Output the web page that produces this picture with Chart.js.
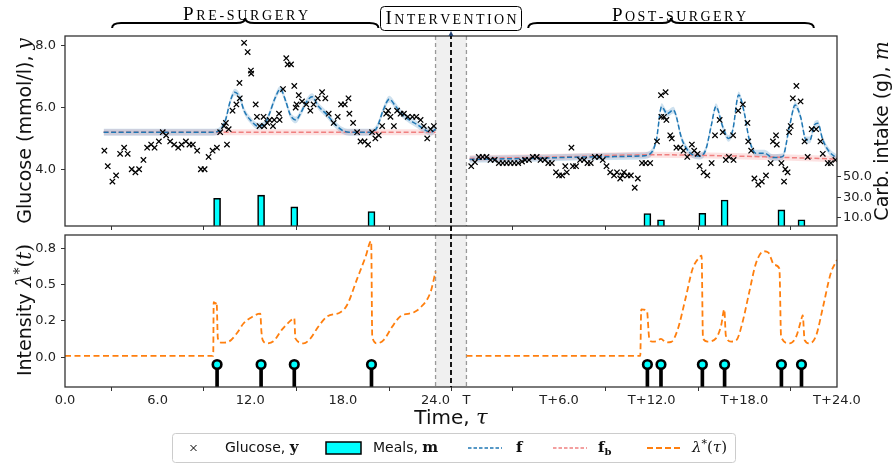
<!DOCTYPE html>
<html>
<head>
<meta charset="utf-8">
<script src="https://cdn.jsdelivr.net/npm/chart.js@4.4.0/dist/chart.umd.min.js"></script>
<style>
  html, body { margin: 0; padding: 0; background: #fff; }
  #wrap { position: relative; width: 896px; height: 465px; }
  #wrap canvas { position: absolute; left: 0; top: 0; }
</style>
</head>
<body>
<div id="wrap">
  <canvas id="topChart" width="896" height="465"></canvas>
  <canvas id="bottomChart" width="896" height="465"></canvas>
</div>
<script>
// ---- ticks ----
const xTicks = [0, 6, 12, 18, 24, 26, 32, 38, 44, 50];
const xTickLabels = ['0.0', '6.0', '12.0', '18.0', '24.0', 'T', 'T+6.0', 'T+12.0', 'T+18.0', 'T+24.0'];
const glucoseTicks = [4, 6, 8];
const carbTicks = [10, 30, 50];
const intensityTicks = [0, 0.25, 0.5, 0.75];
const intensityTickLabels = ['0.0', '0.2', '0.5', '0.8'];

// ---- glucose observations (hours, mmol/l) ----
const glucoseTime = [
  2.55, 2.77, 3.07, 3.31, 3.57, 3.83, 4.06, 4.32, 4.56, 4.8, 5.08, 5.32, 5.58, 5.8, 6.08, 6.33, 6.55, 6.81,
  7.07, 7.33, 7.55, 7.83, 8.06, 8.28, 8.56, 8.8, 9.04, 9.3, 9.56, 9.84, 10.05, 10.3, 10.42, 10.49, 10.6,
  10.85, 11.1, 11.3, 11.32, 11.6, 11.83, 12.04, 12.06, 12.35, 12.43, 12.6, 12.86, 12.9, 13.1, 13.25, 13.47,
  13.55, 13.86, 13.9, 14.12, 14.33, 14.42, 14.64, 14.85, 14.94, 15.0, 15.14, 15.35, 15.63, 15.89, 16.1,
  16.37, 16.65, 16.86, 17.08, 17.4, 17.66, 17.88, 18.12, 18.36, 18.42, 18.66, 18.92, 19.14, 19.4, 19.63,
  19.89, 20.1, 20.32, 20.54, 20.8, 20.93, 21.08, 21.3, 21.51, 21.73, 21.95, 22.2, 22.5, 22.75, 23.03,
  23.24, 23.46, 23.68, 23.89,
  26.31, 26.55, 26.8, 27.05, 27.3, 27.56, 27.83, 28.1, 28.35, 28.6, 28.85, 29.1, 29.35, 29.6, 29.8, 30.05,
  30.3, 30.55, 30.8, 31.07, 31.3, 31.53, 31.8, 32.0, 32.2, 32.4, 32.5, 32.8, 32.9, 33.1, 33.36, 33.62,
  33.84, 34.05, 34.31, 34.6, 34.83, 35.07, 35.31, 35.56, 35.75, 35.96, 36.1, 36.2, 36.43, 36.65, 36.9,
  37.1, 37.37, 37.6, 37.9, 38.34, 38.6, 38.9, 38.62, 38.8, 38.95, 39.2, 39.3, 39.6, 39.85, 40.06, 40.3,
  40.6, 40.75, 40.97, 41.1, 41.36, 41.6, 41.88, 42.1, 42.4, 42.6, 42.8, 43.0, 43.27, 43.3, 43.6, 43.9,
  44.2, 44.25, 44.44, 44.65, 44.9, 45.13, 45.4, 45.7, 45.85, 46.05, 46.1, 46.4, 46.57, 46.65, 46.8, 46.9,
  47.0, 47.14, 47.37, 47.64, 47.9, 48.1, 48.36, 48.65, 48.93, 49.08, 49.4, 49.6, 49.9
];
const glucoseValue = [
  4.6, 4.1, 3.6, 3.8, 4.5, 4.7, 4.5, 4.0, 3.9, 4.0, 4.3, 4.7, 4.8, 4.7, 4.9, 5.2, 5.1, 4.9,
  4.8, 4.7, 4.8, 4.9, 4.8, 4.8, 4.6, 4.0, 4.0, 4.4, 4.6, 4.7, 5.2, 5.4, 5.5, 4.8, 5.3,
  5.9, 6.1, 6.8, 6.3, 8.1, 7.8, 7.2, 7.1, 6.1, 5.7, 5.4, 5.7, 5.4, 5.5, 5.6, 5.4,
  5.6, 5.8, 5.6, 6.6, 7.6, 7.4, 7.4, 6.7, 6.0, 6.1, 6.4, 6.2, 6.1, 5.9, 6.1,
  6.3, 6.5, 6.3, 5.8, 5.5, 5.7, 6.1, 6.1, 6.3, 5.8, 5.5, 5.2, 4.9, 4.9, 4.8,
  5.2, 5.0, 5.1, 5.4, 5.8, 5.9, 5.7, 5.4, 5.9, 5.8, 5.8, 5.7, 5.7, 5.7, 5.6,
  5.4, 5.0, 5.3, 5.4,
  4.1, 4.23, 4.4, 4.4, 4.4, 4.3, 4.3, 4.2, 4.2, 4.2, 4.2, 4.2, 4.2, 4.25, 4.3, 4.3,
  4.4, 4.4, 4.3, 4.3, 4.2, 4.2, 3.9, 3.8, 3.8, 4.1, 3.9, 4.7, 4.1, 4.1, 4.3, 4.3,
  4.2, 4.2, 4.4, 4.4, 4.3, 4.1, 3.9, 3.8, 3.9, 3.7, 3.8, 3.9, 3.8, 3.8, 3.4,
  3.7, 4.2, 4.2, 4.2, 4.9, 6.4, 6.5, 5.7, 5.7, 5.6, 5.1, 5.0, 4.7, 4.7, 4.6, 4.4,
  4.8, 4.6, 4.5, 4.1, 3.9, 3.8, 4.2, 5.1, 5.6, 5.2, 4.3, 4.4, 5.1, 4.3, 5.9, 6.1,
  5.5, 4.9, 4.6, 3.7, 3.5, 3.6, 3.8, 4.2, 4.9, 5.1, 4.8, 4.2, 3.6, 4.0, 3.9, 5.2,
  5.4, 6.3, 6.7, 6.2, 4.9, 4.4, 5.3, 5.3, 4.9, 4.5, 4.2, 4.2, 4.3
];

// ---- fitted response f and baseline fb ----
const fPreTime = [2.5, 4, 6, 8, 9.6, 10.0, 10.4, 10.7, 11.0, 11.3, 11.6, 12.0, 12.5, 12.9, 13.2, 13.6, 13.95,
  14.3, 14.6, 14.95, 15.3, 15.6, 16.0, 16.4, 17.0, 17.5, 18.0, 18.4, 19.8, 20.2, 20.6, 21.0, 21.4, 21.8,
  22.3, 22.8, 23.3, 23.7, 24.0];
const fPreValue = [5.2, 5.2, 5.2, 5.2, 5.2, 5.25, 5.6, 6.2, 6.5, 6.35, 5.9, 5.6, 5.4, 5.45, 5.75, 6.3, 6.6,
  6.2, 5.75, 5.6, 5.85, 6.15, 6.35, 6.05, 5.75, 5.45, 5.25, 5.2, 5.2, 5.35, 5.9, 6.27, 6.05, 5.8,
  5.6, 5.45, 5.28, 5.2, 5.3];
const fPostTime = [26.2, 30, 34, 37.3, 37.9, 38.3, 38.64, 39.0, 39.4, 39.97, 40.5, 41.1, 41.5, 41.85, 42.16,
  42.6, 42.97, 43.25, 43.63, 44.0, 44.3, 44.75, 45.3, 45.84, 46.48, 46.92, 47.29, 47.64, 48.0, 48.25,
  48.54, 48.76, 49.08, 49.5, 50.0];
const fPostValue = [4.32, 4.35, 4.4, 4.43, 4.5, 4.95, 6.03, 5.8, 5.92, 4.95, 4.52, 4.43, 4.63, 5.4, 6.03,
  5.38, 5.0, 5.27, 6.41, 5.82, 5.0, 4.52, 4.52, 4.38, 4.41, 5.38, 6.08, 5.7, 4.95, 4.95,
  5.44, 5.49, 4.95, 4.57, 4.36];
const fbPreTime = [2.5, 10, 16, 24];
const fbPreValue = [5.2, 5.2, 5.2, 5.2];
const fbPostTime = [26.2, 32, 38, 44, 50];
const fbPostValue = [4.35, 4.4, 4.47, 4.42, 4.33];
const fBand = 0.11;
const fbBand = 0.1;

// ---- meals (hours, grams) ----
const mealTime = [9.85, 12.7, 14.85, 19.85, 37.72, 38.6, 41.28, 42.72, 46.4, 47.7];
const mealCarbs = [29, 32, 20.5, 16, 14, 8, 14.3, 27.3, 17.6, 8];
const stemHead = -0.05;
const stemFoot = -0.4;

// ---- meal intensity lambda* ----
const lambdaPreTime = [0, 9.6, 9.63, 9.75, 9.82, 9.9, 10.16, 10.6, 11.13, 11.57, 12.0, 12.65, 12.72, 12.8,
  13.08, 13.5, 14.05, 14.7, 14.85, 14.92, 15.46, 15.9, 16.4, 16.97, 17.84, 18.27, 18.92, 19.46, 19.83,
  19.9, 20.2, 20.65, 21.19, 21.7, 22.6, 23.0, 23.68, 24.0];
const lambdaPreValue = [0.01, 0.01, 0.38, 0.37, 0.38, 0.13, 0.1, 0.107, 0.165, 0.234, 0.27, 0.3, 0.18, 0.12,
  0.096, 0.11, 0.19, 0.26, 0.27, 0.13, 0.096, 0.13, 0.21, 0.28, 0.31, 0.36, 0.54, 0.69, 0.8,
  0.14, 0.096, 0.12, 0.21, 0.28, 0.31, 0.34, 0.45, 0.59];
const lambdaPostTime = [26, 37.26, 37.32, 37.69, 37.84, 38.05, 38.3, 38.6, 38.92, 39.25, 39.68, 40.2, 40.65,
  41.08, 41.23, 41.32, 41.62, 42.16, 42.5, 42.7, 42.8, 43.14, 43.5, 43.89, 44.32, 44.76, 45.26, 45.56,
  45.94, 46.27, 46.38, 46.92, 47.35, 47.68, 47.78, 47.9, 48.22, 48.65, 49.08, 49.6, 50];
const lambdaPostValue = [0.01, 0.01, 0.33, 0.32, 0.13, 0.107, 0.11, 0.126, 0.103, 0.105, 0.19, 0.41, 0.61,
  0.687, 0.7, 0.13, 0.108, 0.13, 0.22, 0.33, 0.15, 0.108, 0.12, 0.245, 0.45, 0.65, 0.73, 0.72,
  0.636, 0.61, 0.14, 0.096, 0.14, 0.257, 0.29, 0.12, 0.096, 0.15, 0.34, 0.58, 0.67];

// ---- colours ----
const blue = '#1f77b4';
const pink = '#f08080';
const orange = '#ff7f0e';
const cyan = '#00ffff';
const spine = '#333333';

Chart.defaults.font.family = "'DejaVu Sans', sans-serif";
Chart.defaults.font.size = 13;
Chart.defaults.color = '#222';

function pts(xs, ys) {
    return xs.map((x, i) => ({ x: x, y: ys[i] }));
}

function shifted(xs, ys, d) {
    return xs.map((x, i) => ({ x: x, y: ys[i] + d }));
}

function bandPair(xs, ys, half, color, order) {
    return [{
        type: 'line', data: shifted(xs, ys, half), fill: '+1', backgroundColor: color,
        borderColor: 'rgba(0,0,0,0)', borderWidth: 0, pointRadius: 0,
        cubicInterpolationMode: 'monotone', order: order
    }, {
        type: 'line', data: shifted(xs, ys, -half), fill: false,
        borderColor: 'rgba(0,0,0,0)', borderWidth: 0, pointRadius: 0,
        cubicInterpolationMode: 'monotone', order: order
    }];
}

function dashLine(xs, ys, color, dash, width, order) {
    return {
        type: 'line', data: pts(xs, ys), borderColor: color, borderWidth: width, borderDash: dash,
        pointRadius: 0, fill: false, cubicInterpolationMode: 'monotone', order: order
    };
}

function fixedTicks(values) {
    return function(axis) { axis.ticks = values.map(v => ({ value: v })); };
}

const tickGrid = { display: true, drawOnChartArea: false, drawTicks: true, tickLength: 4, color: spine, tickColor: spine, tickWidth: 1 };

// ---- text helpers ----
function richWidth(ctx, parts) {
    let w = 0;
    parts.forEach(p => { ctx.font = p.f; w += ctx.measureText(p.t).width; });
    return w;
}

function drawRich(ctx, parts, x, y, align) {
    let cx = align === 'center' ? x - richWidth(ctx, parts) / 2 : x;
    ctx.textAlign = 'left';
    ctx.textBaseline = 'middle';
    parts.forEach(p => {
        ctx.font = p.f;
        ctx.fillText(p.t, cx, y + (p.dy || 0));
        cx += ctx.measureText(p.t).width;
    });
}

function drawRotated(ctx, parts, cx, cy) {
    ctx.save();
    ctx.translate(cx, cy);
    ctx.rotate(-Math.PI / 2);
    drawRich(ctx, parts, 0, 0, 'center');
    ctx.restore();
}

function drawSmallCaps(ctx, text, cx, baseline, targetWidth) {
    const big = "19px 'Liberation Serif', serif";
    const small = "14px 'Liberation Serif', serif";
    const glyphs = text.split('').map(c => {
        const isBig = c !== c.toLowerCase();
        return { t: c.toUpperCase(), f: isBig ? big : small };
    });
    let total = 0;
    glyphs.forEach(g => { ctx.font = g.f; g.w = ctx.measureText(g.t).width; total += g.w; });
    const gap = (targetWidth - total) / (glyphs.length - 1);
    let x = cx - targetWidth / 2;
    ctx.textAlign = 'left';
    ctx.textBaseline = 'alphabetic';
    glyphs.forEach(g => {
        ctx.font = g.f;
        ctx.fillText(g.t, x, baseline);
        x += g.w + gap;
    });
}

function drawBrace(ctx, x1, x2, yTip, yBar, yPeak) {
    const xm = (x1 + x2) / 2;
    const r = 9;
    ctx.beginPath();
    ctx.moveTo(x1, yTip);
    ctx.quadraticCurveTo(x1, yBar, x1 + r, yBar);
    ctx.lineTo(xm - r, yBar);
    ctx.quadraticCurveTo(xm, yBar, xm, yPeak);
    ctx.quadraticCurveTo(xm, yBar, xm + r, yBar);
    ctx.lineTo(x2 - r, yBar);
    ctx.quadraticCurveTo(x2, yBar, x2, yTip);
    ctx.stroke();
}

function roundRect(ctx, x, y, w, h, r) {
    ctx.beginPath();
    ctx.moveTo(x + r, y);
    ctx.lineTo(x + w - r, y);
    ctx.quadraticCurveTo(x + w, y, x + w, y + r);
    ctx.lineTo(x + w, y + h - r);
    ctx.quadraticCurveTo(x + w, y + h, x + w - r, y + h);
    ctx.lineTo(x + r, y + h);
    ctx.quadraticCurveTo(x, y + h, x, y + h - r);
    ctx.lineTo(x, y + r);
    ctx.quadraticCurveTo(x, y, x + r, y);
    ctx.closePath();
}

// shaded intervention window and plot frame, shared by both panels
const panelFrame = {
    id: 'panelFrame',
    beforeDatasetsDraw(chart) {
        const { ctx, chartArea: a, scales: { x } } = chart;
        const x0 = x.getPixelForValue(24), x1 = x.getPixelForValue(26);
        ctx.save();
        ctx.fillStyle = '#f0f0f0';
        ctx.fillRect(x0, a.top, x1 - x0, a.bottom - a.top);
        ctx.strokeStyle = '#999';
        ctx.lineWidth = 1.3;
        ctx.setLineDash([4, 3]);
        [x0, x1].forEach(px => {
            ctx.beginPath();
            ctx.moveTo(px, a.top);
            ctx.lineTo(px, a.bottom);
            ctx.stroke();
        });
        ctx.restore();
    },
    afterDraw(chart) {
        const { ctx, chartArea: a } = chart;
        ctx.save();
        ctx.strokeStyle = spine;
        ctx.lineWidth = 1.3;
        ctx.strokeRect(a.left, a.top, a.right - a.left, a.bottom - a.top);
        ctx.restore();
    }
};

const topDecor = {
    id: 'topDecor',
    afterDraw(chart) {
        const { ctx, scales: { x } } = chart;
        ctx.save();
        ctx.fillStyle = '#000';
        ctx.strokeStyle = '#000';
        ctx.lineWidth = 2;
        drawBrace(ctx, x.getPixelForValue(3.05), x.getPixelForValue(20.3), 28, 23, 18);
        drawBrace(ctx, x.getPixelForValue(30.0), x.getPixelForValue(48.5), 28, 23, 18);
        drawSmallCaps(ctx, 'Pre-surgery', 245.5, 20, 125);
        drawSmallCaps(ctx, 'Post-surgery', 679, 20.5, 134);
        // intervention box
        ctx.lineWidth = 1;
        roundRect(ctx, 380.5, 6.5, 141, 24, 4);
        ctx.fillStyle = '#fff';
        ctx.fill();
        ctx.stroke();
        ctx.fillStyle = '#000';
        drawSmallCaps(ctx, 'Intervention', 451, 24, 131);

        // axis titles
        ctx.fillStyle = '#111';
        drawRotated(ctx, [
            { t: 'Glucose (mmol/l), ', f: "19px 'DejaVu Sans', sans-serif" },
            { t: 'y', f: "italic 20px 'DejaVu Serif', serif" }
        ], 26, 131);
        drawRotated(ctx, [
            { t: 'Carb. intake (g), ', f: "19px 'DejaVu Sans', sans-serif" },
            { t: 'm', f: "italic 20px 'DejaVu Serif', serif" }
        ], 883, 131);
        ctx.restore();
    }
};

const bottomDecor = {
    id: 'bottomDecor',
    afterDraw(chart) {
        const { ctx, chartArea: a, scales: { x } } = chart;
        ctx.save();
        // intervention marker line through both panels
        const xi = x.getPixelForValue(25);
        ctx.strokeStyle = '#000';
        ctx.lineWidth = 1.8;
        ctx.setLineDash([5, 3]);
        ctx.beginPath();
        ctx.moveTo(xi, 34);
        ctx.lineTo(xi, a.bottom);
        ctx.stroke();
        ctx.setLineDash([]);
        ctx.fillStyle = '#1f3f6f';
        ctx.beginPath();
        ctx.moveTo(xi, 31);
        ctx.lineTo(xi - 2.5, 36);
        ctx.lineTo(xi + 2.5, 36);
        ctx.closePath();
        ctx.fill();

        // axis titles
        ctx.fillStyle = '#111';
        drawRotated(ctx, [
            { t: 'Intensity ', f: "19px 'DejaVu Sans', sans-serif" },
            { t: '\u03bb', f: "italic 20px 'DejaVu Serif', serif" },
            { t: '*', f: "14px 'DejaVu Serif', serif", dy: -6 },
            { t: '(', f: "20px 'DejaVu Serif', serif" },
            { t: 't', f: "italic 20px 'DejaVu Serif', serif" },
            { t: ')', f: "20px 'DejaVu Serif', serif" }
        ], 26, 310);
        drawRich(ctx, [
            { t: 'Time, ', f: "20px 'DejaVu Sans', sans-serif" },
            { t: '\u03c4', f: "italic 21px 'DejaVu Serif', serif" }
        ], 451, 419, 'center');

        // legend
        ctx.lineWidth = 1;
        ctx.strokeStyle = '#cccccc';
        roundRect(ctx, 172.5, 433.5, 563, 29, 3);
        ctx.fillStyle = 'rgba(255,255,255,0.9)';
        ctx.fill();
        ctx.stroke();
        const ly = 448;
        ctx.fillStyle = '#111';
        ctx.strokeStyle = '#000';
        ctx.lineWidth = 1;
        ctx.beginPath();
        ctx.moveTo(190.5, ly - 3); ctx.lineTo(196.5, ly + 3);
        ctx.moveTo(196.5, ly - 3); ctx.lineTo(190.5, ly + 3);
        ctx.stroke();
        drawRich(ctx, [
            { t: 'Glucose, ', f: "14px 'DejaVu Sans', sans-serif" },
            { t: 'y', f: "bold 15px 'DejaVu Serif', serif" }
        ], 225, ly, 'left');
        ctx.fillStyle = cyan;
        ctx.fillRect(326, ly - 6, 35, 12);
        ctx.lineWidth = 1.5;
        ctx.strokeRect(326, ly - 6, 35, 12);
        ctx.fillStyle = '#111';
        drawRich(ctx, [
            { t: 'Meals, ', f: "14px 'DejaVu Sans', sans-serif" },
            { t: 'm', f: "bold 15px 'DejaVu Serif', serif" }
        ], 373, ly, 'left');
        const legendLine = (x0, color, dash, w) => {
            ctx.strokeStyle = color;
            ctx.lineWidth = w;
            ctx.setLineDash(dash);
            ctx.beginPath();
            ctx.moveTo(x0, ly);
            ctx.lineTo(x0 + 34, ly);
            ctx.stroke();
            ctx.setLineDash([]);
        };
        legendLine(468, blue, [3.5, 2], 1.5);
        drawRich(ctx, [{ t: 'f', f: "bold 15px 'DejaVu Serif', serif" }], 516, ly, 'left');
        legendLine(553, pink, [3.5, 2], 1.5);
        drawRich(ctx, [
            { t: 'f', f: "bold 15px 'DejaVu Serif', serif" },
            { t: 'b', f: "bold 10px 'DejaVu Serif', serif", dy: 4 }
        ], 598, ly, 'left');
        legendLine(647, orange, [6, 3], 2);
        drawRich(ctx, [
            { t: '\u03bb', f: "italic 15px 'DejaVu Serif', serif" },
            { t: '*', f: "11px 'DejaVu Serif', serif", dy: -4 },
            { t: '(', f: "15px 'DejaVu Serif', serif" },
            { t: '\u03c4', f: "italic 15px 'DejaVu Serif', serif" },
            { t: ')', f: "15px 'DejaVu Serif', serif" }
        ], 692, ly, 'left');
        ctx.restore();
    }
};

// ---- top panel: glucose, fits, meals ----
new Chart(document.getElementById('topChart'), {
    type: 'scatter',
    data: {
        datasets: [
            {
                type: 'scatter', data: pts(glucoseTime, glucoseValue), pointStyle: 'crossRot',
                pointRadius: 3.8, borderColor: '#000', backgroundColor: '#000', borderWidth: 1.25, order: 0
            },
            dashLine(fPreTime, fPreValue, blue, [5, 2.5], 1.5, 1),
            dashLine(fPostTime, fPostValue, blue, [5, 2.5], 1.5, 1),
            dashLine(fbPreTime, fbPreValue, pink, [5, 2.5], 1.5, 2),
            dashLine(fbPostTime, fbPostValue, pink, [5, 2.5], 1.5, 2),
            ...bandPair(fPreTime, fPreValue, fBand, 'rgba(31,119,180,0.22)', 3),
            ...bandPair(fPostTime, fPostValue, fBand, 'rgba(31,119,180,0.22)', 3),
            ...bandPair(fbPreTime, fbPreValue, fbBand, 'rgba(240,110,110,0.2)', 4),
            ...bandPair(fbPostTime, fbPostValue, fbBand, 'rgba(240,110,110,0.2)', 4),
            {
                type: 'bar', yAxisID: 'y2', data: pts(mealTime, mealCarbs), backgroundColor: cyan,
                borderColor: '#000', borderWidth: 1.6, barThickness: 7, order: 5
            }
        ]
    },
    options: {
        responsive: false,
        animation: false,
        devicePixelRatio: 1,
        layout: { padding: { left: 0, right: 0, top: 36, bottom: 235 } },
        plugins: { legend: { display: false }, tooltip: { enabled: false } },
        scales: {
            x: {
                type: 'linear', min: 0, max: 50, offset: false,
                afterBuildTicks: fixedTicks(xTicks),
                afterFit: a => { a.height = 4; },
                grid: tickGrid,
                border: { display: false },
                ticks: { display: false }
            },
            y: {
                type: 'linear', min: 2.16, max: 8.32,
                afterBuildTicks: fixedTicks(glucoseTicks),
                afterFit: a => { a.width = 65; },
                grid: tickGrid,
                border: { display: false },
                ticks: { padding: 5, callback: v => v.toFixed(1) }
            },
            y2: {
                type: 'linear', position: 'right', min: 1.9, max: 187.3,
                afterBuildTicks: fixedTicks(carbTicks),
                afterFit: a => { a.width = 59; },
                grid: tickGrid,
                border: { display: false },
                ticks: { padding: 2, callback: v => v.toFixed(1) }
            }
        }
    },
    plugins: [panelFrame, topDecor]
});

// ---- bottom panel: meal intensity ----
new Chart(document.getElementById('bottomChart'), {
    type: 'scatter',
    data: {
        datasets: [
            {
                type: 'scatter', data: pts(mealTime, mealTime.map(() => stemHead)), pointStyle: 'circle',
                pointRadius: 4.3, backgroundColor: cyan, borderColor: '#000', borderWidth: 2.6, order: 0
            },
            dashLine(lambdaPreTime, lambdaPreValue, orange, [6, 3.5], 1.8, 1),
            dashLine(lambdaPostTime, lambdaPostValue, orange, [6, 3.5], 1.8, 1),
            {
                type: 'bar', data: mealTime.map(t => ({ x: t, y: [stemFoot, stemHead] })),
                backgroundColor: '#000', borderWidth: 0, barThickness: 3, order: 2
            }
        ]
    },
    options: {
        responsive: false,
        animation: false,
        devicePixelRatio: 1,
        layout: { padding: { left: 0, right: 59, top: 235, bottom: 48 } },
        plugins: { legend: { display: false }, tooltip: { enabled: false } },
        scales: {
            x: {
                type: 'linear', min: 0, max: 50, offset: false,
                afterBuildTicks: fixedTicks(xTicks),
                afterFit: a => { a.height = 30; },
                grid: tickGrid,
                border: { display: false },
                ticks: {
                    padding: 2, autoSkip: false, maxRotation: 0, minRotation: 0,
                    callback: v => xTickLabels[xTicks.indexOf(v)]
                }
            },
            y: {
                type: 'linear', min: -0.205, max: 0.842,
                afterBuildTicks: fixedTicks(intensityTicks),
                afterFit: a => { a.width = 65; },
                grid: tickGrid,
                border: { display: false },
                ticks: { padding: 5, callback: v => intensityTickLabels[intensityTicks.indexOf(v)] }
            }
        }
    },
    plugins: [panelFrame, bottomDecor]
});
</script>
</body>
</html>
